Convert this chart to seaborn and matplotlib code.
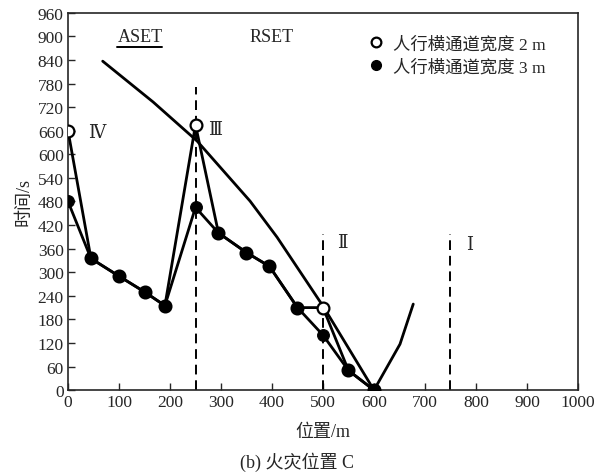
import numpy as np
import pandas as pd
import matplotlib
matplotlib.use("Agg")
import matplotlib.pyplot as plt
import seaborn as sns

# 数据
pos = [0, 45, 100, 150, 190, 250, 295, 350, 395, 450, 500, 550, 600]
t_2m = [660, 335, 290, 250, 215, 675, 400, 350, 315, 210, 210, 50, 0]
t_3m = [480, 335, 290, 250, 215, 465, 400, 350, 315, 210, 140, 50, 0]

# RSET 曲线
rset_x = [68, 167, 253, 357, 410, 500, 600, 651, 677]
rset_y = [837, 733, 634, 481, 389, 214, 0, 117, 219]

# 分区虚线
zone_x = [250, 500, 750]
zone_top = [772, 398, 398]

x_ticks = list(range(0, 1001, 100))
y_ticks = list(range(0, 961, 60))

sns.set_style("ticks")
plt.rcParams['font.family'] = ['Liberation Serif', 'Noto Sans CJK SC']
plt.rcParams['xtick.direction'] = 'in'
plt.rcParams['ytick.direction'] = 'in'
roman_font = ['DejaVu Serif', 'Liberation Serif']

fig = plt.figure(figsize=(5.94, 4.77), dpi=100)
ax = fig.add_axes([0.1145, 0.180, 0.8585, 0.791])

df2 = pd.DataFrame({"x": pos, "y": t_2m})
df3 = pd.DataFrame({"x": pos, "y": t_3m})
dfr = pd.DataFrame({"x": rset_x, "y": rset_y})

sns.lineplot(data=dfr, x="x", y="y", ax=ax, color="black", lw=2, sort=False)
sns.lineplot(data=df2, x="x", y="y", ax=ax, color="black", lw=2, sort=False,
             marker="o", markersize=8.5, markerfacecolor="white",
             markeredgecolor="black", markeredgewidth=1.6, zorder=3)
sns.lineplot(data=df3, x="x", y="y", ax=ax, color="black", lw=2, sort=False,
             marker="o", markersize=8.5, markerfacecolor="black",
             markeredgecolor="black", zorder=4)

for zx, zt in zip(zone_x, zone_top):
    ax.plot([zx, zx], [0, zt], color="black", lw=1.4, ls=(0, (5, 3)), zorder=1)

ax.text(40, 656, "Ⅳ", fontsize=13, va="center", ha="left", family=roman_font)
ax.text(275, 664, "Ⅲ", fontsize=13, va="center", ha="left", family=roman_font)
ax.text(528, 377, "Ⅱ", fontsize=13, va="center", ha="left", family=roman_font)
ax.text(780, 372, "Ⅰ", fontsize=13, va="center", ha="left", family=roman_font)

ax.text(141, 900, "ASET", fontsize=13, ha="center", va="center")
ax.plot([96, 184], [874, 874], color="black", lw=1.4)
ax.text(400, 900, "RSET", fontsize=13, ha="center", va="center")

h1 = plt.Line2D([], [], ls="none", marker="o", markersize=7, markerfacecolor="white",
                markeredgecolor="black", markeredgewidth=1.6)
h2 = plt.Line2D([], [], ls="none", marker="o", markersize=7, markerfacecolor="black",
                markeredgecolor="black")
ax.legend([h1, h2], ["人行横通道宽度 2 m", "人行横通道宽度 3 m"], loc="upper right",
          bbox_to_anchor=(0.967, 0.98), frameon=False, fontsize=12.5,
          handletextpad=0.4, labelspacing=0.35, handlelength=1.2)

ax.set_xlim(0, 1000)
ax.set_ylim(0, 960)
ax.set_xticks(x_ticks)
ax.set_yticks(y_ticks)
ax.tick_params(labelsize=12.5, length=5, width=1, pad=3)
ax.set_xlabel("位置/m", fontsize=13, labelpad=9)
ax.set_ylabel("时间/s", fontsize=13, labelpad=4)
for s in ax.spines.values():
    s.set_linewidth(1.2)

fig.text(0.5, 0.018, "(b) 火灾位置 C", ha="center", fontsize=13)

fig.savefig("out.png", dpi=100)
